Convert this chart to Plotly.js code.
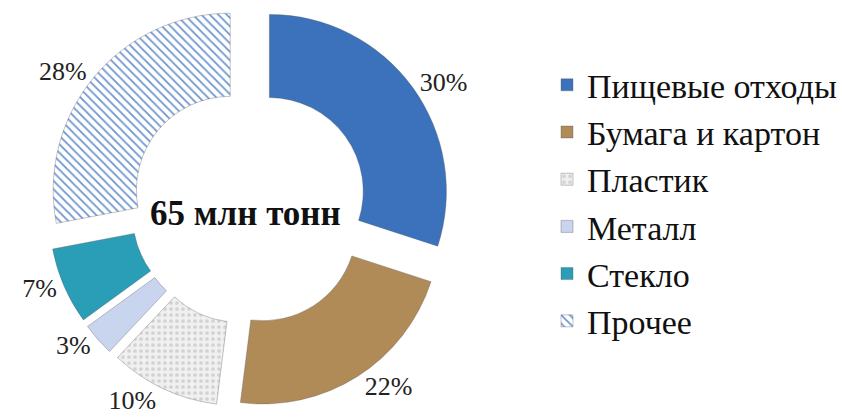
<!DOCTYPE html>
<html>
<head>
<meta charset="utf-8">
<script src="https://cdn.plot.ly/plotly-3.0.1.min.js"></script>
<style>html,body{margin:0;padding:0;background:#fff;}#chart{width:842px;height:419px;}</style>
</head>
<body>
<div id="chart"></div>
<script>
const categories = ["Пищевые отходы", "Бумага и картон", "Пластик", "Металл", "Стекло", "Прочее"];
const values = [30, 22, 10, 3, 7, 28];
const centerLabel = "65 млн тонн";

const colors = ["#3b72bb", "#b08b58", "#f0f0f0", "#c9d5ee", "#2a9db7", "#ffffff"];
const patterns = ["", "", ".", "", "", "\\"];

const trace = {
  type: "pie",
  labels: categories,
  values: values,
  hole: 0.53,
  sort: false,
  direction: "clockwise",
  rotation: 0,
  pull: [0.14, 0.14, 0.14, 0.14, 0.14, 0.14],
  domain: {x: [0.057, 0.5416], y: [0.0215, 0.9952]},
  marker: {
    colors: colors,
    line: {color: "rgba(90,90,90,0.35)", width: 1},
    pattern: {
      shape: patterns,
      fgcolor: ["#3b72bb", "#b08b58", "#d2d2d2", "#c9d5ee", "#2a9db7", "#6f95d0"],
      bgcolor: colors,
      size: 6,
      solidity: 0.3
    }
  },
  texttemplate: "%{value}%",
  textposition: "outside",
  textfont: {family: "Liberation Serif, Times New Roman, serif", size: 26, color: "#222"},
  showlegend: true
};

const layout = {
  width: 842, height: 419,
  margin: {l: 0, r: 0, t: 0, b: 0},
  paper_bgcolor: "#fff",
  showlegend: true,
  legend: {
    x: 0.657, y: 0.515, xanchor: "left", yanchor: "middle",
    font: {family: "Liberation Serif, Times New Roman, serif", size: 34, color: "#111"},
    itemwidth: 30,
    traceorder: "normal"
  },
  annotations: [{
    text: "<b>" + centerLabel + "</b>",
    x: 248 / 842, y: 1 - 213 / 419, xref: "paper", yref: "paper", xanchor: "center", yanchor: "middle",
    showarrow: false,
    font: {family: "Liberation Serif, Times New Roman, serif", size: 35, color: "#111"}
  }]
};

Plotly.newPlot("chart", [trace], layout, {displayModeBar: false, staticPlot: true});
</script>
</body>
</html>
